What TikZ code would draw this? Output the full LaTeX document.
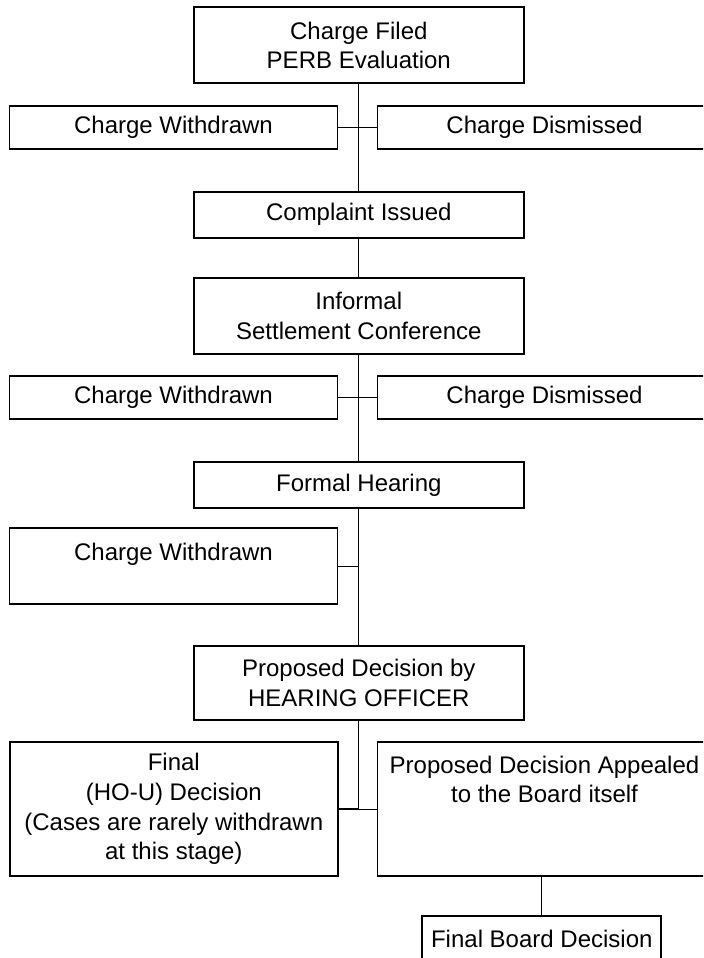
\documentclass[tikz,border=0pt]{standalone}
\usepackage{fontspec}
\setmainfont{Liberation Sans}
\usepackage{tikz}
\usetikzlibrary{calc}

\begin{document}
\begin{tikzpicture}[
            x=0.025cm, y=-0.025cm,
            box/.style={rectangle, draw, line width=1.3pt, inner sep=0pt,
                        minimum width=8.25cm, minimum height=1.15cm,
                        font=\fontsize{17.07pt}{21.1pt}\selectfont, align=center},
            side/.style={box, minimum width=8.2cm, minimum height=1.08cm},
            tall/.style={minimum height=1.9cm},
            trunk/.style={draw, line width=0.9pt},
            stub/.style={draw, line width=1pt},
            thin/.style={draw, line width=0.5pt}
          ]
          \useasboundingbox (0,0) rectangle (703,958);
          \clip (0,0) rectangle (703,958);

          % main column
          \node[box, tall] (filed) at (358.8, 45.3)
                {Charge Filed\\PERB Evaluation};
          \node[box] (complaint) at (358.8, 214.7) {Complaint Issued};
          \node[box, tall] (informal) at (358.8, 316)
                {Informal\\Settlement Conference};
          \node[box] (formal) at (358.8, 485.2) {Formal Hearing};
          \node[box, minimum height=1.86cm] (proposed) at (358.8, 682.9)
                {Proposed Decision by\\HEARING OFFICER};

          % side branches (right ones run off the page)
          \node[side] (wdr1) at (173.5, 127.7) {Charge Withdrawn};
          \node[side, minimum width=8.35cm] (dis1) at (544.5, 127.7) {Charge Dismissed};
          \node[side] (wdr2) at (173.5, 397.7) {Charge Withdrawn};
          \node[side, minimum width=8.35cm] (dis2) at (544.5, 397.7) {Charge Dismissed};
          \node[side, tall] (wdr3) at (173.5, 566.2) {Charge Withdrawn\\~};

          \node[side, minimum height=3.35cm] (final) at (173.8, 809)
                {Final\\(HO-U) Decision\\(Cases are rarely withdrawn\\at this stage)};
          \node[side, minimum width=8.35cm, minimum height=3.35cm] (appeal)
                at (544.5, 809)
                {Proposed Decision Appealed\\to the Board itself\\~\\~};
          \node[box, minimum width=5.975cm, minimum height=1.15cm] (board)
                at (541.8, 939) {Final Board Decision};

          % connectors
          \draw[trunk] (filed.south) -- (complaint.north);
          \draw[trunk] (complaint.south) -- (informal.north);
          \draw[trunk] (informal.south) -- (formal.north);
          \draw[trunk] (formal.south) -- (proposed.north);
          \draw[trunk] (proposed.south) -- (final.east -| proposed.south);

          \foreach \wn/\dn/\tn in {wdr1/dis1/filed, wdr2/dis2/informal,
                                   final/appeal/proposed} {
            \draw[stub] (\wn.east) -- (\wn.east -| \tn.south);
            \draw[thin] (\dn.west) -- (\dn.west -| \tn.south);
          }
          \draw[stub] (wdr3.east) -- (wdr3.east -| formal.south);

          \draw[thin] (board.north |- appeal.south) -- (board.north);
        \end{tikzpicture}
\end{document}
